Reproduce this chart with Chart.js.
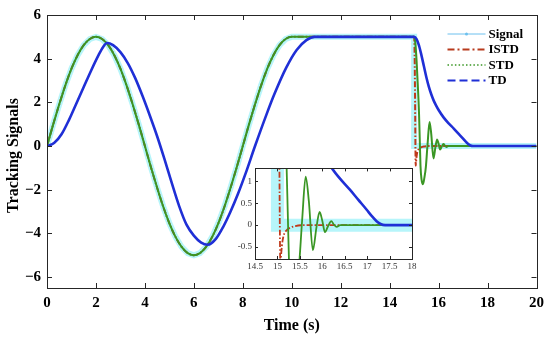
<!DOCTYPE html>
<html>
<head>
<meta charset="utf-8">
<script src="https://cdn.jsdelivr.net/npm/chart.js@4"></script>
<style>
  html, body { margin: 0; padding: 0; background: #fff; }
  #wrap { position: relative; width: 550px; height: 338px; }
  #main { position: absolute; left: 0; top: 0; }
  #inset { position: absolute; left: 228px; top: 160px; }
</style>
</head>
<body>
<div id="wrap">
  <canvas id="main" width="550" height="338"></canvas>
  <canvas id="inset" width="194" height="115"></canvas>
</div>
<script>
// first 10 s: reference input (shared by Signal, ISTD, STD)
const sineTime = [0, 0.25, 0.5, 0.75, 1, 1.25, 1.5, 1.75, 2, 2.25, 2.5, 2.75, 3, 3.25, 3.5, 3.75,
  4, 4.25, 4.5, 4.75, 5, 5.25, 5.5, 5.75, 6, 6.25, 6.5, 6.75, 7, 7.25, 7.5, 7.75,
  8, 8.25, 8.5, 8.75, 9, 9.25, 9.5, 9.75, 10];
const sineValue = [0, 0.98, 1.91, 2.78, 3.54, 4.16, 4.62, 4.9, 5, 4.9, 4.62, 4.16, 3.54, 2.78, 1.91, 0.98,
  0, -0.98, -1.91, -2.78, -3.54, -4.16, -4.62, -4.9, -5, -4.9, -4.62, -4.16, -3.54, -2.78, -1.91, -0.98,
  0, 0.98, 1.91, 2.78, 3.54, 4.16, 4.62, 4.9, 5];

// after 10 s
const signalTailTime = [15, 15, 20];
const signalTailValue = [5, 0, 0];

const istdTailTime = [15, 15.02, 15.04, 15.055, 15.065, 15.08, 15.1, 15.13, 15.2, 15.28, 15.4, 15.6, 20];
const istdTailValue = [5, 4.2, 2.0, -0.2, -0.9, -0.7, -0.47, -0.27, -0.12, -0.06, -0.02, 0, 0];

const stdTailTime = [15, 15.05, 15.1, 15.15, 15.2, 15.23, 15.26, 15.3, 15.36, 15.42, 15.48, 15.55, 15.63,
  15.7, 15.79, 15.87, 15.94, 16, 16.06, 16.13, 16.2, 16.26, 16.32, 16.4, 16.6, 20];
const stdTailValue = [5, 4.7, 3.9, 2.8, 1.5, 0.3, -0.9, -1.5, -1.75, -1.45, -0.95, 0.1, 1.1,
  0.55, -0.57, -0.05, 0.3, 0.1, -0.16, -0.02, 0.09, 0.01, -0.04, 0, 0, 0];

const tdTime = [0, 0.3, 0.6, 0.9, 1.2, 1.5, 1.8, 2.1, 2.3, 2.45,
  2.7, 3.0, 3.3, 3.6, 3.9, 4.2, 4.5, 4.8, 5.1, 5.4,
  5.7, 6.0, 6.3, 6.57, 6.9, 7.2, 7.5, 7.8, 8.1, 8.5,
  8.97, 9.3, 9.78, 10.2, 10.6, 10.94, 15, 15.1, 15.2, 15.3,
  15.4, 15.5, 15.6, 15.7, 15.8, 15.9, 16.0, 16.21, 16.4, 16.62,
  16.8, 16.99, 17.1, 17.21, 17.3, 17.4, 20];
const tdValue = [0, 0.15, 0.55, 1.2, 1.95, 2.7, 3.45, 4.15, 4.55, 4.72,
  4.62, 4.3, 3.8, 3.12, 2.3, 1.4, 0.45, -0.6, -1.7, -2.75,
  -3.6, -4.1, -4.42, -4.52, -4.25, -3.7, -3.0, -2.2, -1.3, 0,
  1.45, 2.4, 3.6, 4.4, 4.85, 5.0, 5.0, 4.9, 4.6, 4.15,
  3.65, 3.15, 2.72, 2.37, 2.08, 1.85, 1.65, 1.3, 1.05, 0.8,
  0.58, 0.35, 0.21, 0.09, 0.025, 0, 0];

const xTicks = [0, 2, 4, 6, 8, 10, 12, 14, 16, 18, 20];
const yTicks = [-6, -4, -2, 0, 2, 4, 6];
const insetXTicks = [14.5, 15, 15.5, 16, 16.5, 17, 17.5, 18];
const insetYTicks = [-0.5, 0, 0.5, 1];

function pts(ts, vs) {
  return ts.map((t, i) => ({ x: t, y: vs[i] }));
}

const signalData = pts(sineTime.concat(signalTailTime), sineValue.concat(signalTailValue));
const istdData = pts(sineTime.concat(istdTailTime), sineValue.concat(istdTailValue));
const stdData = pts(sineTime.concat(stdTailTime), sineValue.concat(stdTailValue));
const tdData = pts(tdTime, tdValue);

const legendStyle = {
  Signal: { color: '#6cc0ee', width: 1, dash: [], dot: true },
  ISTD: { color: '#b83a1c', width: 2, dash: [7, 3, 2, 3] },
  STD: { color: '#3a9624', width: 1.6, dash: [1.5, 2.2] },
  TD: { color: '#1f2fd6', width: 2, dash: [8, 4] }
};

Chart.defaults.font.family = "'Liberation Serif', 'Times New Roman', serif";
Chart.defaults.animation = false;

function series(w) {
  return [
    { label: 'Signal', data: signalData, borderColor: 'rgba(110,235,245,0.5)', borderWidth: w.signal, tension: 0, order: 4 },
    { label: 'ISTD', data: istdData, borderColor: '#c0391b', borderWidth: w.istd, borderDash: [6, 2, 1.5, 2], cubicInterpolationMode: 'monotone', order: 3 },
    { label: 'STD', data: stdData, borderColor: '#3a9624', borderWidth: w.std, cubicInterpolationMode: 'monotone', order: 2 },
    { label: 'TD', data: tdData, borderColor: '#1f2fd6', borderWidth: w.td, cubicInterpolationMode: 'monotone', order: 1 }
  ].map(d => Object.assign({ pointRadius: 0, fill: false, clip: 0 }, d));
}

// box round the plot area and inward tick marks on all four sides
const frameTicks = {
  id: 'frameTicks',
  beforeDraw(chart, args, opts) {
    if (!opts.fill) return;
    const a = chart.chartArea;
    chart.ctx.save();
    chart.ctx.fillStyle = opts.fill;
    chart.ctx.fillRect(a.left, a.top, a.right - a.left, a.bottom - a.top);
    chart.ctx.restore();
  },
  afterDraw(chart, args, opts) {
    const { ctx, chartArea: a, scales: { x, y } } = chart;
    const len = opts.len || 5;
    ctx.save();
    ctx.strokeStyle = '#262626';
    ctx.lineWidth = 1;
    ctx.beginPath();
    x.ticks.forEach(t => {
      const px = Math.round(x.getPixelForValue(t.value)) + 0.5;
      ctx.moveTo(px, a.bottom); ctx.lineTo(px, a.bottom - len);
      ctx.moveTo(px, a.top); ctx.lineTo(px, a.top + len);
    });
    y.ticks.forEach(t => {
      const py = Math.round(y.getPixelForValue(t.value)) + 0.5;
      ctx.moveTo(a.left, py); ctx.lineTo(a.left + len, py);
      ctx.moveTo(a.right, py); ctx.lineTo(a.right - len, py);
    });
    ctx.stroke();
    ctx.strokeRect(Math.round(a.left) + 0.5, Math.round(a.top) + 0.5,
      Math.round(a.right - a.left), Math.round(a.bottom - a.top));
    ctx.restore();
  }
};

const insideLegend = {
  id: 'insideLegend',
  afterDraw(chart) {
    const { ctx, chartArea: a } = chart;
    ctx.save();
    ctx.font = "bold 13px 'Liberation Serif', serif";
    ctx.textBaseline = 'middle';
    ctx.fillStyle = '#000';
    chart.data.datasets.forEach((ds, i) => {
      const st = legendStyle[ds.label];
      const y = a.top + 19 + i * 15.5;
      const x0 = a.right - 89, x1 = a.right - 51;
      ctx.strokeStyle = st.color;
      ctx.lineWidth = st.width;
      ctx.setLineDash(st.dash);
      ctx.beginPath();
      ctx.moveTo(x0, y);
      ctx.lineTo(x1, y);
      ctx.stroke();
      ctx.setLineDash([]);
      if (st.dot) {
        ctx.fillStyle = st.color;
        ctx.beginPath();
        ctx.arc((x0 + x1) / 2, y, 1.5, 0, Math.PI * 2);
        ctx.fill();
        ctx.fillStyle = '#000';
      }
      ctx.fillText(ds.label, a.right - 48, y + 0.5);
    });
    ctx.restore();
  }
};

new Chart(document.getElementById('main'), {
  type: 'line',
  data: { datasets: series({ signal: 6, istd: 2, std: 2, td: 2.6 }) },
  options: {
    responsive: false,
    layout: { padding: { top: 15, right: 13, left: 0, bottom: 0 } },
    plugins: { legend: { display: false }, tooltip: { enabled: false }, frameTicks: { len: 5 } },
    scales: {
      x: {
        type: 'linear', min: 0, max: 20,
        grid: { display: false, drawTicks: false }, border: { display: false },
        ticks: { font: { size: 15, weight: 'bold' }, color: '#000', padding: 6, maxRotation: 0,
          callback: v => String(v) },
        afterBuildTicks: s => { s.ticks = xTicks.map(v => ({ value: v })); },
        afterFit: s => { s.height = 50; },
        title: { display: true, text: 'Time (s)', color: '#000', font: { size: 16, weight: 'bold' },
          padding: { top: 0, bottom: 3 } }
      },
      y: {
        type: 'linear', min: -6.5, max: 6,
        grid: { display: false, drawTicks: false }, border: { display: false },
        ticks: { font: { size: 15, weight: 'bold' }, color: '#000', padding: 6,
          callback: v => String(v).replace('-', '\u2212') },
        afterBuildTicks: s => { s.ticks = yTicks.map(v => ({ value: v })); },
        afterFit: s => { s.width = 47; },
        title: { display: true, text: 'Tracking Signals\u2002', color: '#000', font: { size: 16, weight: 'bold' },
          padding: { top: 4, bottom: 0 } }
      }
    }
  },
  plugins: [frameTicks, insideLegend]
});

new Chart(document.getElementById('inset'), {
  type: 'line',
  data: { datasets: series({ signal: 13, istd: 1.8, std: 1.8, td: 2.6 }) },
  options: {
    responsive: false,
    layout: { padding: { top: 5, right: 10, left: 0, bottom: 0 } },
    plugins: { legend: { display: false }, tooltip: { enabled: false }, frameTicks: { len: 3, fill: '#fff' } },
    scales: {
      x: {
        type: 'linear', min: 14.5, max: 18,
        grid: { display: false, drawTicks: false }, border: { display: false },
        ticks: { font: { size: 9 }, color: '#333', padding: 2, maxRotation: 0, autoSkip: false,
          callback: v => String(v) },
        afterBuildTicks: s => { s.ticks = insetXTicks.map(v => ({ value: v })); },
        afterFit: s => { s.height = 16; }
      },
      y: {
        type: 'linear', min: -0.77, max: 1.29,
        grid: { display: false, drawTicks: false }, border: { display: false },
        ticks: { font: { size: 9 }, color: '#333', padding: 3, autoSkip: false,
          callback: v => String(v) },
        afterBuildTicks: s => { s.ticks = insetYTicks.map(v => ({ value: v })); },
        afterFit: s => { s.width = 27; }
      }
    }
  },
  plugins: [frameTicks]
});
</script>
</body>
</html>
